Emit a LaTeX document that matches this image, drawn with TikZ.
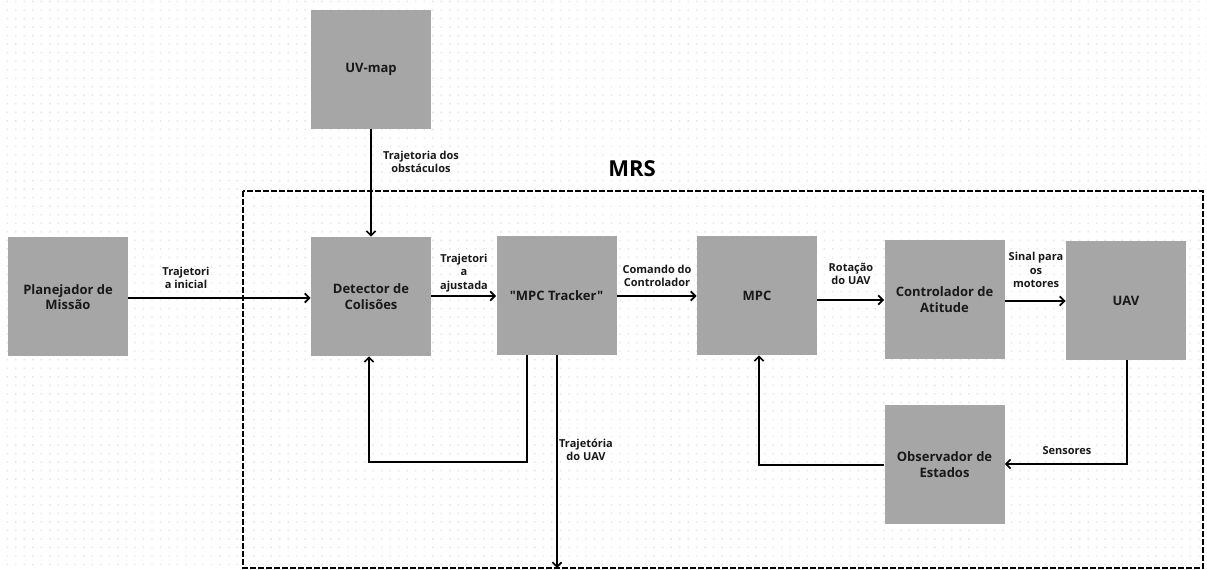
\documentclass[tikz,border=0pt]{standalone}
\usepackage{fontspec}
\setmainfont{Open Sans}
\newfontfamily\osf{Open Sans}
\usetikzlibrary{arrows.meta}
\definecolor{boxgray}{HTML}{A6A6A6}
\definecolor{dotgray}{HTML}{E6E6E6}
\tikzset{
  box/.style={fill=boxgray, minimum width=90pt, minimum height=89.25pt, inner sep=0pt, align=center,
    font=\osf\fontsize{9.75}{11.8}\selectfont\bfseries, text=black!90},
  lab/.style={align=center, font=\osf\fontsize{8.25}{10}\selectfont\bfseries, inner sep=0pt, text=black!90},
  arr/.style={line width=1.4pt, -{Straight Barb[length=3.5pt,width=7pt]}},
  fb/.style={line width=1.2pt, -{Straight Barb[length=3.5pt,width=7pt]}},
  frame/.style={line width=1.1pt, dash pattern=on 4.5pt off 1.5pt},
}
\begin{document}
\begin{tikzpicture}[x=0.75pt,y=-0.75pt]
\useasboundingbox (0,0) rectangle (1207,570);
\fill[white] (0,0) rectangle (1207,570);
% dot grid
\foreach \j in {0,...,66} {
  \fill[dotgray] \foreach \i in {0,...,141} {(7.3+8.51*\i-0.7,1.5+8.53*\j-0.7) rectangle ++(1.4,1.4)};
}
% boxes
\node[box] (plan) at (68,297) {Planejador de\\Missão};
\node[box] (uv) at (371,69.5) {UV-map};
\node[box] (det) at (371,296.5) {Detector de\\Colisões};
\node[box] (trk) at (556.5,295.5) {"MPC Tracker"};
\node[box] (mpc) at (757,295.5) {MPC};
\node[box] (ctrl) at (944.5,299.5) {Controlador de\\Atitude};
\node[box] (uav) at (1126,300.5) {UAV};
\node[box] (obs) at (944.5,464.5) {Observador de\\Estados};
% MRS frame
\draw[frame] (243,191) rectangle (1203,568);
\node[font=\osf\fontsize{16.5}{18}\selectfont\bfseries] (mrs) at (632,169) {MRS};
% connectors
\draw[arr] (plan.east |- 0,298) -- (det.west |- 0,298);
\draw[fb] (uv.south) -- (det.north);
\draw[arr] (det.east |- 0,296) -- (trk.west |- 0,296);
\draw[arr] (trk.east |- 0,296) -- (mpc.west |- 0,296);
\draw[arr] (mpc.east |- 0,300) -- (ctrl.west |- 0,300);
\draw[arr] (ctrl.east |- 0,301) -- (uav.west |- 0,301);
\draw[fb] (trk.south -| 527,0) -- (527,462) -- (369,462) -- (det.south -| 369,0);
\coordinate (trkend) at (557,568);
\draw[fb] (trk.south -| 557,0) -- (trkend);
\draw[fb] (uav.south -| 1127,0) -- (1127,464) -- (obs.east |- 0,464);
\draw[fb] (obs.west |- 0,465) -- (759,465) -- (mpc.south -| 759,0);
% labels
\node[lab] (l1) at (186,278) {Trajetori\\a inicial};
\node[lab] (l2) at (421,162) {Trajetoria dos\\obstáculos};
\node[lab] (l3) at (464,273) {Trajetori\\a\\ajustada};
\node[lab] (l4) at (657,276) {Comando do\\Controlador};
\node[lab] (l5) at (851,274) {Rotação\\do UAV};
\node[lab] (l6) at (1036,270) {Sinal para\\os\\motores};
\node[lab] (l7) at (586,450) {Trajetória\\do UAV};
\node[lab] (l8) at (1067,451) {Sensores};
\end{tikzpicture}
\end{document}
